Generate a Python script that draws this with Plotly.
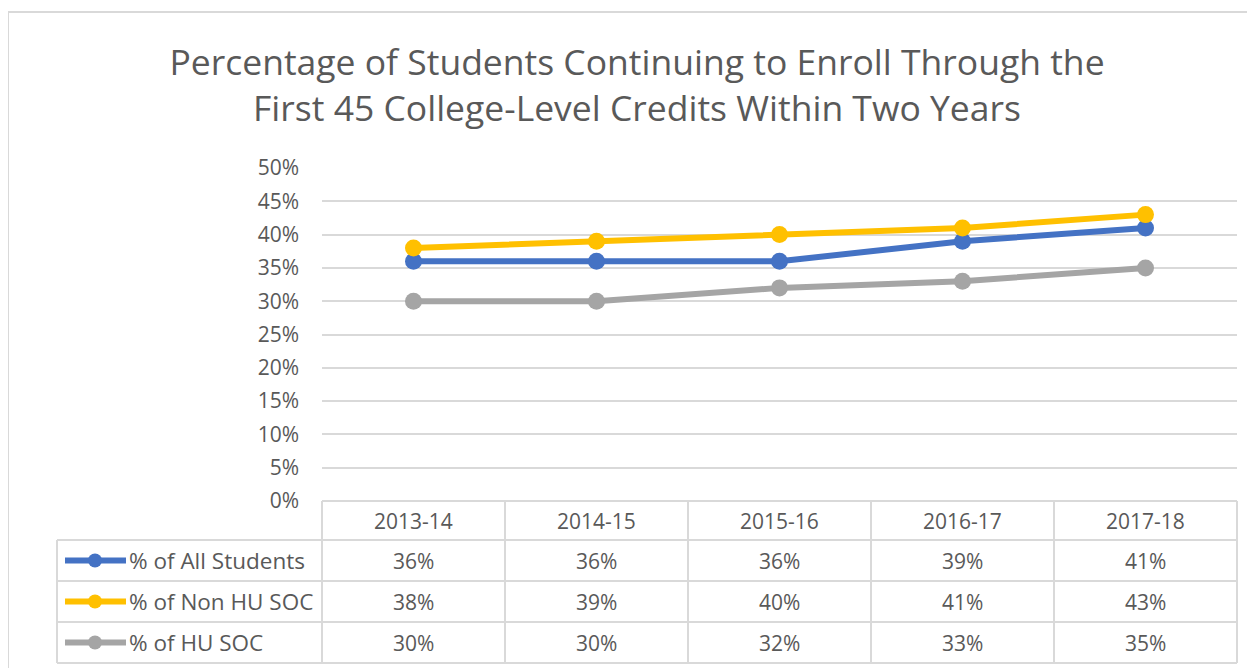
import plotly.graph_objects as go

years = ['2013-14', '2014-15', '2015-16', '2016-17', '2017-18']
all_students = [36, 36, 36, 39, 41]
non_hu_soc = [38, 39, 40, 41, 43]
hu_soc = [30, 30, 32, 33, 35]

series_names = ['% of All Students', '% of Non HU SOC', '% of HU SOC']
series_values = [all_students, non_hu_soc, hu_soc]
series_colors = ['#4472C4', '#FFC000', '#A5A5A5']

OFF = 8                       # page body margin
W, H = 1255 - OFF, 668 - OFF
L, R, T, B = 322, 1237, 168, 501   # plot area in window pixels

def px(x):
    return (x - L) / (R - L)

def py(y):
    return (B - y) / (B - T)

text_col = '#595959'
grid_col = '#d9d9d9'
font_fam = 'Open Sans, sans-serif'
fs = 21

fig = go.Figure()
for name, vals, col in zip(series_names, series_values, series_colors):
    fig.add_trace(go.Scatter(
        x=list(range(len(years))), y=vals, name=name, mode='lines+markers',
        line=dict(color=col, width=6), marker=dict(color=col, size=17),
        showlegend=False, cliponaxis=False))

shapes = []
# chart border
shapes.append(dict(type='rect', xref='paper', yref='paper',
                   x0=px(8), x1=px(1262), y0=py(12), y1=py(675),
                   line=dict(color=grid_col, width=2)))

# data table grid
row_lines = [540, 581, 622, 663]
col_lines = [L + i * (R - L) / len(years) for i in range(len(years) + 1)]
tline = dict(color=grid_col, width=2)
shapes.append(dict(type='line', xref='paper', yref='paper',
                   x0=0, x1=1, y0=py(B), y1=py(B), line=tline))
for ry in row_lines:
    shapes.append(dict(type='line', xref='paper', yref='paper',
                       x0=px(57), x1=1, y0=py(ry), y1=py(ry), line=tline))
for cx in col_lines:
    shapes.append(dict(type='line', xref='paper', yref='paper',
                       x0=px(cx), x1=px(cx), y0=py(B), y1=py(663), line=tline))
shapes.append(dict(type='line', xref='paper', yref='paper',
                   x0=px(57), x1=px(57), y0=py(540), y1=py(663), line=tline))

cell_font = dict(size=fs, color=text_col, family=font_fam)
label_font = dict(size=22.5, color=text_col, family=font_fam)
annotations = []
for i, yr in enumerate(years):
    annotations.append(dict(x=i, xref='x', y=py(521), yref='paper', text=yr,
                            showarrow=False, yanchor='middle', font=cell_font))

for r, (name, vals, col) in enumerate(zip(series_names, series_values, series_colors)):
    cy = (row_lines[r] + row_lines[r + 1]) / 2
    # legend key
    shapes.append(dict(type='line', xref='paper', yref='paper',
                       x0=px(65), x1=px(126), y0=py(cy), y1=py(cy),
                       line=dict(color=col, width=6)))
    shapes.append(dict(type='circle', xref='paper', yref='paper',
                       x0=px(88), x1=px(102), y0=py(cy - 7), y1=py(cy + 7),
                       fillcolor=col, line=dict(color=col, width=0)))
    annotations.append(dict(x=px(127), xref='paper', y=py(cy), yref='paper', text=name,
                            showarrow=False, xanchor='left', yanchor='middle',
                            font=label_font))
    for i, v in enumerate(vals):
        annotations.append(dict(x=i, xref='x', y=py(cy), yref='paper', text=f'{v}%',
                                showarrow=False, yanchor='middle', font=cell_font))

fig.update_layout(
    width=W, height=H, autosize=False,
    margin=dict(l=L - OFF, r=W + OFF - R, t=T - OFF, b=H + OFF - B),
    paper_bgcolor='white', plot_bgcolor='white',
    title=dict(text='Percentage of Students Continuing to Enroll Through the<br>'
                    'First 45 College-Level Credits Within Two Years',
               x=(637 - OFF) / W, xanchor='center', y=1 - (75 - OFF) / H, yanchor='middle',
               font=dict(size=35.5, color=text_col, family=font_fam)),
    xaxis=dict(range=[-0.5, len(years) - 0.5], showticklabels=False, showgrid=False,
               zeroline=False, showline=False, ticks=''),
    yaxis=dict(range=[0, 50], dtick=5, ticksuffix='%', showgrid=True,
               gridcolor=grid_col, gridwidth=2, zeroline=False, showline=False,
               ticklabelstandoff=22,
               tickfont=dict(size=fs, color=text_col, family=font_fam)),
    shapes=shapes, annotations=annotations,
)

fig.write_html('out.html')
